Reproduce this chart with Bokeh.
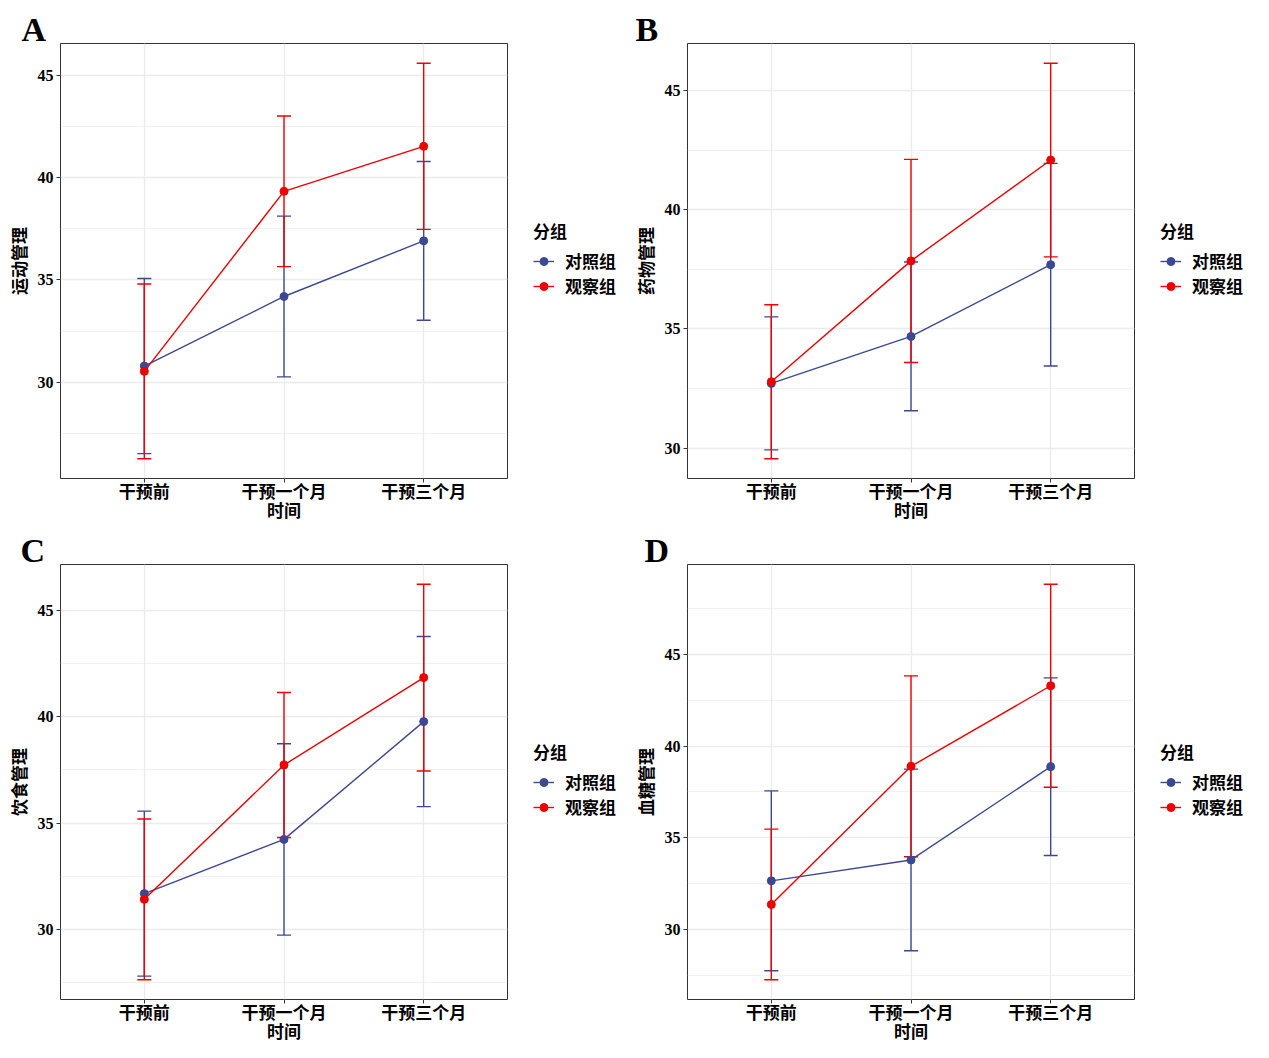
from bokeh.plotting import figure
from bokeh.models import (ColumnDataSource, FactorRange, Range1d, FixedTicker,
                          Legend, LegendItem, Title)
from bokeh.layouts import column, row
from bokeh.embed import file_html
from bokeh.resources import INLINE

# ---- data -------------------------------------------------------------
times = ["干预前", "干预一个月", "干预三个月"]
groups = ["对照组", "观察组"]
group_colors = ["#3B4992", "#EE0000"]
legend_title = "分组"
x_title = "时间"

# A: 运动管理 (mean, sd)
a_label = "运动管理"
a_ctrl_mean = [30.79, 34.19, 36.91]
a_ctrl_sd = [4.28, 3.93, 3.88]
a_obs_mean = [30.53, 39.33, 41.53]
a_obs_sd = [4.27, 3.68, 4.06]

# B: 药物管理
b_label = "药物管理"
b_ctrl_mean = [32.71, 34.68, 37.69]
b_ctrl_sd = [2.79, 3.12, 4.25]
b_obs_mean = [32.78, 37.85, 42.08]
b_obs_sd = [3.23, 4.26, 4.06]

# C: 饮食管理
c_label = "饮食管理"
c_ctrl_mean = [31.68, 34.23, 39.77]
c_ctrl_sd = [3.88, 4.50, 4.00]
c_obs_mean = [31.41, 37.73, 41.84]
c_obs_sd = [3.78, 3.41, 4.39]

# D: 血糖管理
d_label = "血糖管理"
d_ctrl_mean = [32.65, 33.79, 38.88]
d_ctrl_sd = [4.91, 4.96, 4.85]
d_obs_mean = [31.36, 38.90, 43.30]
d_obs_sd = [4.11, 4.94, 5.54]

y_ticks = [30, 35, 40, 45]
y_minor = [27.5, 32.5, 37.5, 42.5, 47.5]

# ---- styling ----------------------------------------------------------
CJK = "Noto Sans CJK SC"
SERIF = "Liberation Serif"
GRID = "#EBEBEB"
DARK = "#333333"
FRAME_W, FRAME_H = 447, 435
LEFT, RIGHT = 60, 5
LINE_W = 1.4
POINT_SIZE = 8


def panel(tag, tag_dx, ylabel, ctrl_mean, ctrl_sd, obs_mean, obs_sd,
          top, bottom):
    series = [
        (ctrl_mean, ctrl_sd, group_colors[0]),
        (obs_mean, obs_sd, group_colors[1]),
    ]
    lows = [m - s for ms, ss, _ in series for m, s in zip(ms, ss)]
    highs = [m + s for ms, ss, _ in series for m, s in zip(ms, ss)]
    lo, hi = min(lows), max(highs)
    pad = 0.05 * (hi - lo)

    p = figure(
        x_range=FactorRange(factors=times, range_padding=0.1,
                            range_padding_units="absolute"),
        y_range=Range1d(lo - pad, hi + pad),
        width=LEFT + FRAME_W + RIGHT, height=top + FRAME_H + bottom,
        min_border_left=LEFT, min_border_right=RIGHT,
        min_border_top=top, min_border_bottom=bottom,
        output_backend="svg", toolbar_location=None,
        background_fill_color="white", border_fill_color="white",
        outline_line_color=DARK, outline_line_width=1,
    )

    # panel tag
    p.title = Title(text=tag, align="left", offset=tag_dx, standoff=-8,
                    vertical_align="bottom", text_font=SERIF,
                    text_font_style="bold", text_font_size="34px",
                    text_color="black")

    # grid
    p.xgrid.grid_line_color = GRID
    p.xgrid.grid_line_width = 1.3
    p.ygrid.grid_line_color = GRID
    p.ygrid.grid_line_width = 1.3
    p.ygrid.minor_grid_line_color = GRID
    p.ygrid.minor_grid_line_width = 0.7

    # axes
    p.yaxis.ticker = FixedTicker(ticks=y_ticks, minor_ticks=y_minor)
    for ax in (p.xaxis[0], p.yaxis[0]):
        ax.axis_line_color = None
        ax.major_tick_line_color = DARK
        ax.major_tick_in = 0
        ax.major_tick_out = 4
        ax.minor_tick_line_color = None
        ax.major_label_text_color = "black"
        ax.axis_label_text_color = "black"
        ax.axis_label_text_font = CJK
        ax.axis_label_text_font_style = "bold"
        ax.axis_label_text_font_size = "17px"
    p.yaxis.axis_label = ylabel
    p.yaxis.major_label_text_font = SERIF
    p.yaxis.major_label_text_font_style = "bold"
    p.yaxis.major_label_text_font_size = "16px"
    p.yaxis.major_label_standoff = 3
    p.yaxis.axis_label_standoff = 4
    p.xaxis.axis_label = x_title
    p.xaxis.major_label_text_font = CJK
    p.xaxis.major_label_text_font_style = "bold"
    p.xaxis.major_label_text_font_size = "17px"
    p.xaxis.major_label_standoff = -5
    p.xaxis.axis_label_standoff = -9

    sources = []
    for m, s, c in series:
        sources.append((c, ColumnDataSource(dict(
            t=times, mean=m,
            lower=[a - b for a, b in zip(m, s)],
            upper=[a + b for a, b in zip(m, s)],
        ))))

    # error bars (mean ± sd)
    for c, src in sources:
        p.segment(x0="t", y0="lower", x1="t", y1="upper", source=src,
                  line_color=c, line_width=LINE_W)
        p.scatter(x="t", y="upper", source=src, marker="dash", size=14,
                  line_color=c, line_width=LINE_W)
        p.scatter(x="t", y="lower", source=src, marker="dash", size=14,
                  line_color=c, line_width=LINE_W)
    # mean lines, then points
    for c, src in sources:
        p.line(x="t", y="mean", source=src, line_color=c, line_width=LINE_W)
    for c, src in sources:
        p.scatter(x="t", y="mean", source=src, size=POINT_SIZE,
                  fill_color=c, line_color=c)
    return p


def legend_box(width, height):
    """Group legend drawn in its own strip to the right of a panel."""
    q = figure(
        width=width, height=height, x_range=Range1d(0, 1),
        y_range=Range1d(0, 1), x_axis_location=None, y_axis_location=None,
        min_border=0, min_border_left=0, min_border_right=0,
        min_border_top=0, min_border_bottom=0,
        output_backend="svg", toolbar_location=None, outline_line_color=None,
        background_fill_color="white", border_fill_color="white",
    )
    q.xgrid.visible = False
    q.ygrid.visible = False
    nan = float("nan")
    items = []
    for name, c in zip(groups, group_colors):
        # key renderers only: a single missing point, nothing is plotted
        ln = q.line(x=[nan], y=[nan], line_color=c, line_width=LINE_W)
        pt = q.scatter(x=[nan], y=[nan], size=POINT_SIZE, fill_color=c,
                       line_color=c)
        items.append(LegendItem(label=name, renderers=[ln, pt]))
    q.add_layout(Legend(
        items=items, title=legend_title, location=(21, 180),
        margin=0, padding=0, spacing=0,
        glyph_width=21, glyph_height=20, label_standoff=11,
        label_text_font=CJK, label_text_font_style="bold",
        label_text_font_size="17px", label_text_color="black",
        title_text_font=CJK, title_text_font_style="bold",
        title_text_font_size="17px", title_text_color="black",
        title_standoff=5,
        border_line_color=None, background_fill_alpha=0,
    ))
    return q


TOP1, TOP2, BOTTOM = 43, 38, 48
H1 = TOP1 + FRAME_H + BOTTOM
H2 = TOP2 + FRAME_H + BOTTOM
GAP_W = 687 - 2 * LEFT - FRAME_W - RIGHT   # legend strip between columns

pa = panel("A", -39, a_label, a_ctrl_mean, a_ctrl_sd, a_obs_mean, a_obs_sd,
           TOP1, BOTTOM)
pb = panel("B", -52, b_label, b_ctrl_mean, b_ctrl_sd, b_obs_mean, b_obs_sd,
           TOP1, BOTTOM)
pc = panel("C", -40, c_label, c_ctrl_mean, c_ctrl_sd, c_obs_mean, c_obs_sd,
           TOP2, BOTTOM)
pd_ = panel("D", -43, d_label, d_ctrl_mean, d_ctrl_sd, d_obs_mean, d_obs_sd,
            TOP2, BOTTOM)

layout = column(
    row(pa, legend_box(GAP_W, H1), pb, legend_box(125, H1), spacing=0),
    row(pc, legend_box(GAP_W, H2), pd_, legend_box(125, H2), spacing=0),
    spacing=0,
)

with open("out.html", "w") as f:
    f.write(file_html(layout, INLINE))
